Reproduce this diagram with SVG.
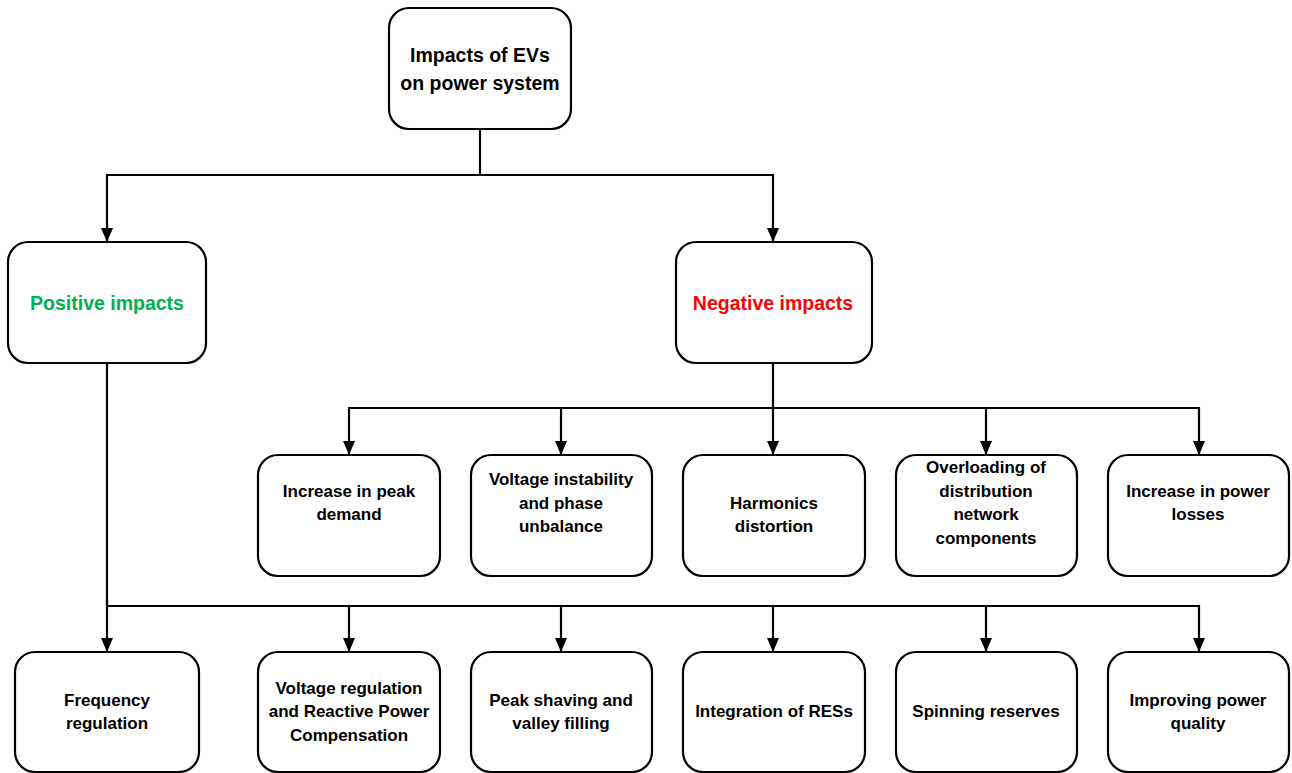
<svg xmlns="http://www.w3.org/2000/svg" width="1292" height="773" viewBox="0 0 1292 773">
  <defs>
    <marker id="arrow" viewBox="0 0 14 12" refX="14" refY="6" markerWidth="14" markerHeight="12" markerUnits="userSpaceOnUse" orient="auto">
      <path d="M0,0 L14,6 L0,12 Z" fill="#000"/>
    </marker>
  </defs>
  <style>
    .box { fill: #fff; stroke: #000; stroke-width: 2.2; }
    .lbl { font-family: "Liberation Sans", Arial, sans-serif; font-weight: bold; font-size: 17px; fill: #000; text-anchor: middle; }
    .big { font-size: 19.5px; }
    .pos { fill: #00B050; }
    .neg { fill: #FF0000; }
    .wire { fill: none; stroke: #000; stroke-width: 2.2; }
  </style>
  <rect width="1292" height="773" fill="#fff"/>

  <!-- connectors -->
  <g id="connectors">
    <path class="wire" d="M480,129 V175 H107 V230"/>
    <path class="wire" d="M480,175 H773 V230"/>
    <line class="wire" x1="107" y1="226" x2="107" y2="242" marker-end="url(#arrow)"/>
    <line class="wire" x1="773" y1="226" x2="773" y2="242" marker-end="url(#arrow)"/>
    <!-- negative branch -->
    <path class="wire" d="M773,363 V408"/>
    <path class="wire" d="M349,408 H1199"/>
    <line class="wire" x1="349" y1="407" x2="349" y2="455" marker-end="url(#arrow)"/>
    <line class="wire" x1="561" y1="407" x2="561" y2="455" marker-end="url(#arrow)"/>
    <line class="wire" x1="773" y1="407" x2="773" y2="455" marker-end="url(#arrow)"/>
    <line class="wire" x1="986" y1="407" x2="986" y2="455" marker-end="url(#arrow)"/>
    <line class="wire" x1="1199" y1="407" x2="1199" y2="455" marker-end="url(#arrow)"/>
    <!-- positive branch -->
    <path class="wire" d="M107,363 V606 H1199"/>
    <line class="wire" x1="107" y1="600" x2="107" y2="652" marker-end="url(#arrow)"/>
    <line class="wire" x1="349" y1="605" x2="349" y2="652" marker-end="url(#arrow)"/>
    <line class="wire" x1="561" y1="605" x2="561" y2="652" marker-end="url(#arrow)"/>
    <line class="wire" x1="773" y1="605" x2="773" y2="652" marker-end="url(#arrow)"/>
    <line class="wire" x1="986" y1="605" x2="986" y2="652" marker-end="url(#arrow)"/>
    <line class="wire" x1="1199" y1="605" x2="1199" y2="652" marker-end="url(#arrow)"/>
  </g>

  <!-- root -->
  <g id="root">
    <rect class="box" x="389" y="8" width="182" height="121" rx="20"/>
    <text class="lbl big" x="480" y="62">Impacts of EVs</text>
    <text class="lbl big" x="480" y="90">on power system</text>
  </g>

  <g id="positive">
    <rect class="box" x="8" y="242" width="198" height="121" rx="20"/>
    <text class="lbl big pos" x="107" y="310">Positive impacts</text>
  </g>

  <g id="negative">
    <rect class="box" x="676" y="242" width="196" height="121" rx="20"/>
    <text class="lbl big neg" x="773" y="310">Negative impacts</text>
  </g>

  <!-- negative impacts row -->
  <g id="peak-demand">
    <rect class="box" x="258" y="455" width="182" height="121" rx="20"/>
    <text class="lbl" x="349" y="497">Increase in peak</text>
    <text class="lbl" x="349" y="520">demand</text>
  </g>
  <g id="voltage-instability">
    <rect class="box" x="471" y="455" width="181" height="121" rx="20"/>
    <text class="lbl" x="561" y="485">Voltage instability</text>
    <text class="lbl" x="561" y="509">and phase</text>
    <text class="lbl" x="561" y="532">unbalance</text>
  </g>
  <g id="harmonics">
    <rect class="box" x="683" y="455" width="182" height="121" rx="20"/>
    <text class="lbl" x="774" y="509">Harmonics</text>
    <text class="lbl" x="774" y="532">distortion</text>
  </g>
  <g id="overloading">
    <rect class="box" x="896" y="455" width="181" height="121" rx="20"/>
    <text class="lbl" x="986" y="473">Overloading of</text>
    <text class="lbl" x="986" y="497">distribution</text>
    <text class="lbl" x="986" y="520">network</text>
    <text class="lbl" x="986" y="544">components</text>
  </g>
  <g id="power-losses">
    <rect class="box" x="1108" y="455" width="181" height="121" rx="20"/>
    <text class="lbl" x="1198" y="497">Increase in power</text>
    <text class="lbl" x="1198" y="520">losses</text>
  </g>

  <!-- positive impacts row -->
  <g id="frequency">
    <rect class="box" x="15" y="652" width="184" height="120" rx="20"/>
    <text class="lbl" x="107" y="706">Frequency</text>
    <text class="lbl" x="107" y="729">regulation</text>
  </g>
  <g id="voltage-regulation">
    <rect class="box" x="258" y="652" width="182" height="120" rx="20"/>
    <text class="lbl" x="349" y="694">Voltage regulation</text>
    <text class="lbl" x="349" y="717">and Reactive Power</text>
    <text class="lbl" x="349" y="741">Compensation</text>
  </g>
  <g id="peak-shaving">
    <rect class="box" x="471" y="652" width="181" height="120" rx="20"/>
    <text class="lbl" x="561" y="706">Peak shaving and</text>
    <text class="lbl" x="561" y="729">valley filling</text>
  </g>
  <g id="res-integration">
    <rect class="box" x="683" y="652" width="182" height="120" rx="20"/>
    <text class="lbl" x="774" y="717">Integration of RESs</text>
  </g>
  <g id="spinning-reserves">
    <rect class="box" x="896" y="652" width="181" height="120" rx="20"/>
    <text class="lbl" x="986" y="717">Spinning reserves</text>
  </g>
  <g id="power-quality">
    <rect class="box" x="1108" y="652" width="181" height="120" rx="20"/>
    <text class="lbl" x="1198" y="706">Improving power</text>
    <text class="lbl" x="1198" y="729">quality</text>
  </g>
</svg>
